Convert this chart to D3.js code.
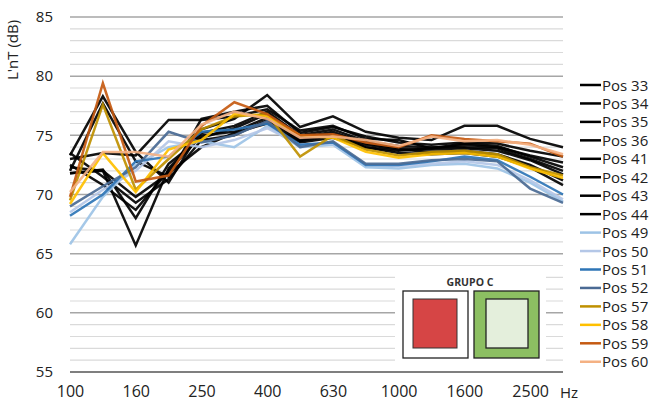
<!DOCTYPE html>
<html><head><meta charset="utf-8">
<script src="https://cdn.jsdelivr.net/npm/d3@7"></script>
<style>body{margin:0;background:#fff}svg{display:block;font-family:"Open Sans",sans-serif}</style>
</head><body><svg id="c" width="653" height="403"></svg>
<script>
const freqs = ["100","125","160","200","250","315","400","500","630","800","1000","1250","1600","2000","2500","3150"];
const tickLabels = ["100","160","250","400","630","1000","1600","2500"];
const yTicks = [55,60,65,70,75,80,85];
const seriesNames = ["Pos 33","Pos 34","Pos 35","Pos 36","Pos 41","Pos 42","Pos 43","Pos 44","Pos 49","Pos 50","Pos 51","Pos 52","Pos 57","Pos 58","Pos 59","Pos 60"];
const seriesColors = ["#000","#000","#000","#000","#000","#000","#000","#000","#9dc3e6","#b4c7e7","#2e75b6","#4a6a94","#bf9000","#ffc000","#c55a11","#f4b183"];
const pos33 = [73.3,78.3,73.6,71.0,75.5,76.4,78.4,75.7,76.6,75.3,74.8,74.6,75.8,75.8,74.7,74.0];
const pos34 = [72.0,77.7,72.8,71.5,76.4,77.0,77.5,75.2,75.7,74.9,74.4,74.2,74.4,74.3,73.7,73.2];
const pos35 = [73.0,73.5,73.3,76.3,76.3,76.6,77.2,75.4,75.8,74.7,74.6,73.9,74.2,74.0,73.3,72.7];
const pos36 = [72.3,72.0,65.7,72.2,75.2,75.8,77.0,75.0,75.5,74.5,74.1,74.0,74.0,73.9,73.0,72.0];
const pos41 = [71.8,72.1,68.0,72.6,74.8,75.6,76.8,74.8,75.3,74.3,73.9,73.8,73.9,73.7,72.9,71.7];
const pos42 = [72.5,70.8,68.7,72.0,75.0,75.3,76.5,74.6,75.1,74.0,73.7,73.9,74.3,74.1,73.2,72.3];
const pos43 = [73.5,71.5,69.3,71.3,74.6,75.0,76.3,74.5,75.0,74.2,73.8,73.6,73.7,73.4,72.5,71.2];
const pos44 = [71.8,72.0,69.8,71.8,74.0,75.2,76.0,74.4,74.8,74.0,73.5,73.4,73.5,73.2,72.3,70.8];
const pos49 = [65.8,69.8,72.5,74.0,74.5,74.0,75.8,74.0,74.2,72.3,72.2,72.5,72.6,72.2,71.0,69.4];
const pos50 = [68.5,70.4,72.0,74.5,74.0,74.6,75.6,74.2,74.3,72.5,72.4,72.6,72.8,72.5,71.2,69.6];
const pos51 = [68.2,70.0,72.8,73.2,75.3,75.5,76.0,74.2,74.4,72.5,72.5,72.8,73.2,72.9,71.5,70.0];
const pos52 = [69.0,70.7,72.3,75.3,74.4,75.0,76.2,74.0,74.5,72.6,72.6,72.9,73.0,72.8,70.5,69.3];
const pos57 = [69.5,77.6,70.4,73.0,75.5,76.6,76.8,73.2,75.0,73.8,73.3,73.6,73.7,73.4,72.3,71.6];
const pos58 = [69.2,73.5,70.2,73.8,74.6,76.8,76.6,75.0,74.8,73.6,73.1,73.4,73.5,73.2,72.2,71.4];
const pos59 = [69.8,79.4,71.1,71.6,75.8,77.8,76.8,75.0,75.1,74.4,74.0,75.0,74.7,74.5,74.3,73.2];
const pos60 = [70.2,73.6,73.6,73.2,75.9,77.0,76.4,74.8,74.9,74.6,74.1,74.9,74.5,74.6,74.2,73.4];
const seriesValues = [pos33,pos34,pos35,pos36,pos41,pos42,pos43,pos44,pos49,pos50,pos51,pos52,pos57,pos58,pos59,pos60];

const svg = d3.select("#c");
const x = d3.scalePoint().domain(freqs).range([70,563]);
const y = d3.scaleLinear().domain([55,85]).range([372,17]);

const minor = d3.range(55,86);
svg.append("g").selectAll("line").data(minor).join("line")
  .attr("x1",70).attr("x2",563)
  .attr("y1",d=>y(d)).attr("y2",d=>y(d))
  .attr("stroke",d=>d===55?"#7f7f7f":(d%5===0?"#a6a6a6":"#dadada"))
  .attr("stroke-width",d=>d===55?2:(d%5===0?1.5:1.2));

const yAxis = d3.axisLeft(y).tickValues(yTicks).tickSize(0).tickPadding(0);
const ga = svg.append("g").attr("transform","translate(53,0)").call(yAxis);
ga.select(".domain").remove();
ga.selectAll("text").attr("font-size",15).attr("fill","#222").attr("font-family","Open Sans");

const xAxis = d3.axisBottom(x).tickValues(tickLabels).tickSize(0).tickPadding(0);
const gx = svg.append("g").attr("transform","translate(0,386)").call(xAxis);
gx.select(".domain").remove();
gx.selectAll("text").attr("font-size",16).attr("fill","#222").attr("font-family","Open Sans");

svg.append("text").attr("x",569).attr("y",398).attr("text-anchor","middle")
  .attr("font-size",15).attr("fill","#222").text("Hz");
svg.append("text").attr("transform","translate(18,50) rotate(-90)").attr("text-anchor","middle")
  .attr("font-size",15).attr("fill","#222").text("L'nT (dB)");

svg.append("rect").attr("x",395).attr("y",273).attr("width",151).attr("height",95).attr("fill","#fff");

const line = d3.line().x((d,i)=>x(freqs[i])).y(d=>y(d));
svg.append("g").selectAll("path").data(seriesValues).join("path")
  .attr("d",line).attr("fill","none")
  .attr("stroke",(d,i)=>seriesColors[i]).attr("stroke-width",2.5)
  .attr("stroke-linejoin","miter").attr("opacity",0.92);

svg.append("text").attr("x",470).attr("y",286).attr("text-anchor","middle")
  .attr("font-size",10.5).attr("font-weight","bold").attr("fill","#333").text("GRUPO C");
svg.append("rect").attr("x",403).attr("y",291).attr("width",65).attr("height",67).attr("fill","#fff").attr("stroke","#222").attr("stroke-width",1.3);
svg.append("rect").attr("x",413).attr("y",299).attr("width",44).attr("height",49).attr("fill","#d64545").attr("stroke","#333").attr("stroke-width",1);
svg.append("rect").attr("x",474).attr("y",291).attr("width",65).attr("height",67).attr("fill","#8cbf62").attr("stroke","#222").attr("stroke-width",1.3);
svg.append("rect").attr("x",486).attr("y",299).attr("width",42).attr("height",49).attr("fill","#e4efdc").attr("stroke","#222").attr("stroke-width",1.3);

const lg = svg.append("g").selectAll("g").data(seriesNames).join("g")
  .attr("transform",(d,i)=>`translate(580,${85+i*18.45})`);
lg.append("line").attr("x1",0).attr("x2",21).attr("y1",0).attr("y2",0)
  .attr("stroke",(d,i)=>seriesColors[i]).attr("stroke-width",2.5);
lg.append("text").attr("x",22).attr("y",5.5).attr("font-size",15).attr("fill","#222").text(d=>d);
</script></body></html>
